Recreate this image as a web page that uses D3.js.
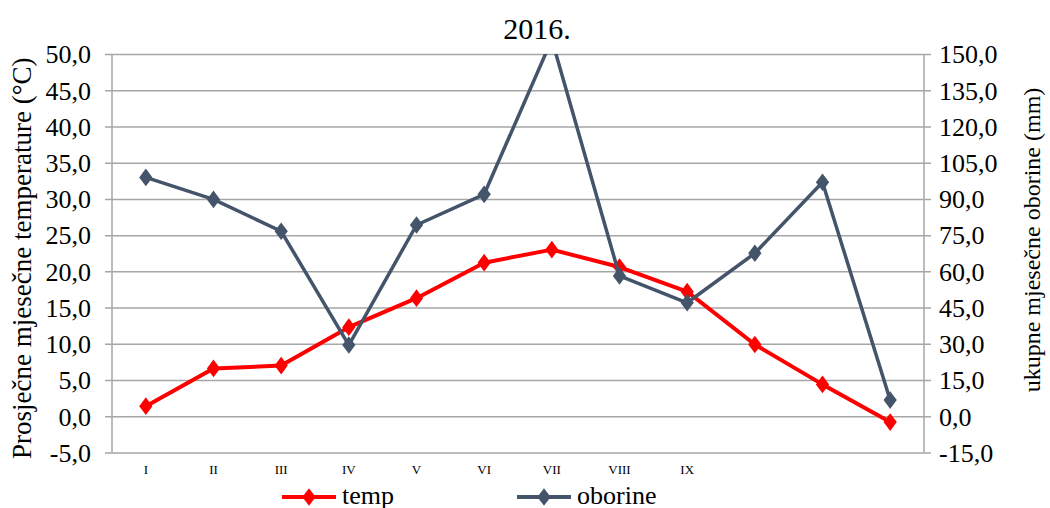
<!DOCTYPE html>
<html lang="hr">
<head>
    <meta charset="utf-8" />
    <title>2016.</title>
    <script src="https://d3js.org/d3.v7.min.js"></script>
    <style>
        body { margin: 0; background: white; }
        svg { display: block; }
        svg text { font-family: "Liberation Serif", "Times New Roman", Times, serif !important; fill: black; }
        .grid line { stroke: #a6a6a6; stroke-width: 1.5px; }
        .grid path { display: none; }
        .ticks path { display: none; }
        .ticks line { display: none; }
    </style>
</head>
<body>
<script>
    // Data
    const months = ["I", "II", "III", "IV", "V", "VI", "VII", "VIII", "IX", "X", "XI", "XII"];
    const monthLabels = ["I", "II", "III", "IV", "V", "VI", "VII", "VIII", "IX", "", "", ""];
    const temp = [1.4, 6.6, 7.0, 12.3, 16.3, 21.2, 23.0, 20.6, 17.2, 9.9, 4.4, -0.8];
    const oborine = [98.9, 89.8, 76.6, 29.5, 79.2, 91.9, 156.0, 58.1, 47.0, 67.5, 96.9, 6.7];
    const leftTicks = [-5, 0, 5, 10, 15, 20, 25, 30, 35, 40, 45, 50];
    const rightTicks = [-15, 0, 15, 30, 45, 60, 75, 90, 105, 120, 135, 150];

    const width = 1050, height = 508;
    const plot = { left: 112, right: 924, top: 54, bottom: 452.5 };
    const serif = '"Liberation Serif", "Times New Roman", serif';

    const svg = d3.select("body").append("svg")
        .attr("width", width)
        .attr("height", height)
        .attr("font-family", serif);

    const x = d3.scaleBand().domain(months).range([plot.left, plot.right]).padding(0);
    const yL = d3.scaleLinear().domain([-5, 50]).range([plot.bottom, plot.top]);
    const yR = d3.scaleLinear().domain([-15, 150]).range([plot.bottom, plot.top]);
    const cx = d => x(d) + x.bandwidth() / 2;
    const fmt = v => d3.format(".1f")(v).replace(".", ",").replace("\u2212", "-");

    // horizontal gridlines (extend a bit past both axes like tick marks)
    svg.append("g")
        .attr("class", "grid")
        .attr("transform", `translate(${plot.right + 7},0)`)
        .call(d3.axisLeft(yL).tickValues(leftTicks).tickSize(plot.right - plot.left + 14).tickFormat(""));

    // vertical axis lines
    [plot.left, plot.right].forEach(px => {
        svg.append("line")
            .attr("x1", px).attr("x2", px)
            .attr("y1", plot.top).attr("y2", plot.bottom)
            .attr("stroke", "#a6a6a6").attr("stroke-width", 1.5);
    });

    // tick labels
    svg.append("g")
        .attr("class", "ticks")
        .attr("transform", `translate(${plot.left - 10},0)`)
        .call(d3.axisLeft(yL).tickValues(leftTicks).tickSize(0).tickPadding(11).tickFormat(fmt))
        .attr("font-family", serif)
        .selectAll("text")
        .style("font-size", "26px")
        .attr("dy", "0.34em");

    svg.append("g")
        .attr("class", "ticks")
        .attr("transform", `translate(${plot.right + 10},0)`)
        .call(d3.axisRight(yR).tickValues(rightTicks).tickSize(0).tickPadding(5).tickFormat(fmt))
        .attr("font-family", serif)
        .selectAll("text")
        .style("font-size", "26px")
        .attr("dy", "0.34em");

    // category labels
    svg.append("g")
        .attr("class", "ticks")
        .attr("transform", `translate(0,${plot.bottom})`)
        .call(d3.axisBottom(x).tickSize(0).tickPadding(10).tickFormat((d, i) => monthLabels[i]))
        .attr("font-family", serif)
        .selectAll("text")
        .style("font-size", "13px")
        .attr("dy", "0.9em");

    // title
    svg.append("text")
        .attr("x", 537).attr("y", 39)
        .attr("text-anchor", "middle")
        .style("font-size", "30px")
        .text("2016.");

    // axis titles
    svg.append("text")
        .attr("transform", `translate(31,${(plot.top + plot.bottom) / 2 + 5}) rotate(-90)`)
        .attr("text-anchor", "middle")
        .style("font-size", "27px")
        .text("Prosječne mjesečne temperature (°C)");

    svg.append("text")
        .attr("transform", `translate(1040,240) rotate(-90)`)
        .attr("text-anchor", "middle")
        .style("font-size", "24px")
        .text("ukupne mjesečne oborine (mm)");

    // clip to plot area
    svg.append("clipPath").attr("id", "plotclip")
        .append("rect")
        .attr("x", plot.left - 20).attr("y", plot.top)
        .attr("width", plot.right - plot.left + 40).attr("height", plot.bottom - plot.top);

    const diamond = d3.symbol().type(d3.symbolDiamond).size(90);
    const mScale = "scale(1.3,1.0)";

    function drawSeries(values, scale, color, lw) {
        const g = svg.append("g").attr("clip-path", "url(#plotclip)");
        g.append("path")
            .datum(values)
            .attr("fill", "none")
            .attr("stroke", color)
            .attr("stroke-width", lw)
            .attr("stroke-linejoin", "round")
            .attr("d", d3.line().x((d, i) => cx(months[i])).y(d => scale(d)));
        g.selectAll("path.m")
            .data(values)
            .join("path")
            .attr("class", "m")
            .attr("transform", (d, i) => `translate(${cx(months[i])},${scale(d)}) ${mScale}`)
            .attr("d", diamond)
            .attr("fill", color);
    }

    // temp first, oborine (secondary axis) drawn on top
    drawSeries(temp, yL, "#ff0000", 4);
    drawSeries(oborine, yR, "#44546a", 3.5);

    // legend
    const legend = [
        { name: "temp", color: "#ff0000", x: 282 },
        { name: "oborine", color: "#44546a", x: 517 }
    ];
    const lg = svg.selectAll("g.legend")
        .data(legend)
        .join("g")
        .attr("class", "legend")
        .attr("transform", d => `translate(${d.x},497)`);
    lg.append("line")
        .attr("x1", 0).attr("x2", 54)
        .attr("stroke", d => d.color)
        .attr("stroke-width", 4);
    lg.append("path")
        .attr("transform", `translate(27,0) ${mScale}`)
        .attr("d", diamond)
        .attr("fill", d => d.color);
    lg.append("text")
        .attr("x", 60).attr("y", 7)
        .style("font-size", "26px")
        .text(d => d.name);
</script>
</body>
</html>
